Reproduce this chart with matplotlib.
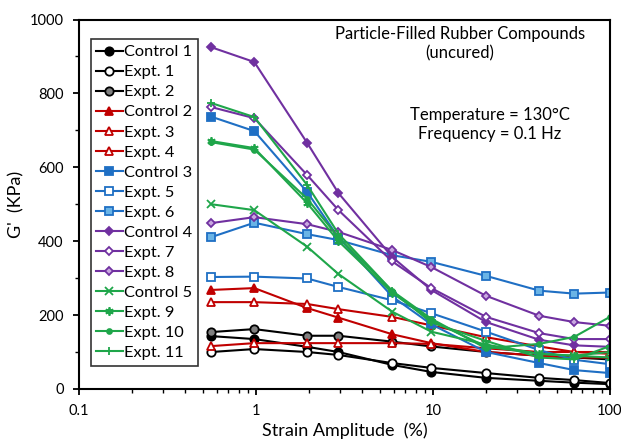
import matplotlib.pyplot as plt
import numpy as np
from matplotlib.ticker import MultipleLocator, FixedLocator, NullFormatter

plt.rcParams['font.family'] = ['Lato', 'DejaVu Sans']

# strain amplitude (%)
strain = [0.56, 0.98, 1.95, 2.93, 5.9, 9.8, 20, 40, 63, 100]

# G' (kPa) per compound
control1 = [143, 135, 114, 100, 65, 46, 30, 22, 17, 13]
expt1 = [100, 108, 100, 92, 70, 57, 43, 30, 24, 16]
expt2 = [154, 162, 144, 144, 128, 115, 100, 90, 85, 80]
control2 = [268, 273, 219, 193, 148, 124, 100, 90, 85, 85]
expt3 = [235, 235, 230, 216, 195, 172, 140, 115, 100, 95]
expt4 = [116, 124, 124, 124, 124, 122, 110, 100, 100, 100]
control3 = [737, 698, 533, 410, 250, 175, 100, 70, 51, 43]
expt5 = [303, 304, 299, 276, 240, 205, 155, 105, 79, 67]
expt6 = [411, 450, 419, 403, 362, 344, 306, 266, 258, 261]
control4 = [925, 885, 666, 530, 357, 268, 181, 133, 118, 114]
expt7 = [763, 733, 579, 484, 345, 273, 195, 151, 135, 135]
expt8 = [449, 465, 446, 425, 376, 330, 252, 198, 181, 171]
control5 = [500, 484, 385, 311, 209, 155, 120, 95, 90, 100]
expt9 = [671, 652, 503, 400, 260, 185, 115, 95, 90, 85]
expt10 = [668, 648, 515, 410, 265, 190, 110, 122, 141, 195]
expt11 = [774, 736, 552, 420, 265, 180, 130, 85, 80, 116]

black = '#000000'
red = '#c00000'
blue = '#1f6fc4'
purple = '#7030a0'
green = '#1fa64a'

series = [
    ("Control 1", control1, black, 'o', black),
    ("Expt. 1", expt1, black, 'o', 'white'),
    ("Expt. 2", expt2, black, 'o', '#808080'),
    ("Control 2", control2, red, '^', red),
    ("Expt. 3", expt3, red, '^', 'white'),
    ("Expt. 4", expt4, red, '^', 'white'),
    ("Control 3", control3, blue, 's', blue),
    ("Expt. 5", expt5, blue, 's', 'white'),
    ("Expt. 6", expt6, blue, 's', '#6ab4e6'),
    ("Control 4", control4, purple, 'D', purple),
    ("Expt. 7", expt7, purple, 'D', 'white'),
    ("Expt. 8", expt8, purple, 'D', '#c9a8e0'),
    ("Control 5", control5, green, 'x', green),
    ("Expt. 9", expt9, green, (6, 2, 0), green),
    ("Expt. 10", expt10, green, '.', green),
    ("Expt. 11", expt11, green, '+', green),
]

fig = plt.figure(figsize=(6.21, 4.44), dpi=100)
ax = fig.add_axes([0.127, 0.124, 0.855, 0.832])

for name, vals, col, mk, fc in series:
    ms = 6
    if mk == 'D':
        ms = 4.5
    if mk == '.':
        ms = 7
    ax.plot(strain, vals, color=col, marker=mk, markerfacecolor=fc,
            markeredgecolor=col, markersize=ms, markeredgewidth=1.3,
            lw=1.5, label=name)

ax.set_xscale('log')
ax.set_xlim(0.1, 100)
ax.set_ylim(0, 1000)
ax.yaxis.set_major_locator(MultipleLocator(200))
ax.yaxis.set_minor_locator(MultipleLocator(100))
ax.set_xticks([0.1, 1, 10, 100])
ax.set_xticklabels(["0.1", "1", "10", "100"])
ax.xaxis.set_minor_formatter(NullFormatter())

ax.tick_params(which='major', direction='out', length=4, width=1.3, labelsize=10.5, pad=7)
ax.tick_params(which='minor', direction='out', length=3, width=1.0)
for sp in ax.spines.values():
    sp.set_linewidth(1.5)

ax.set_ylabel("G'  (KPa)", fontsize=13)
ax.set_xlabel("Strain Amplitude  (%)", fontsize=13, labelpad=3)

ax.text(0.718, 0.935, "Particle-Filled Rubber Compounds\n(uncured)",
        transform=ax.transAxes, ha='center', va='center', fontsize=12,
        linespacing=1.25)
ax.text(0.774, 0.715, "Temperature = 130\u00b0C\nFrequency = 0.1 Hz",
        transform=ax.transAxes, ha='center', va='center', fontsize=12,
        linespacing=1.25)

leg = ax.legend(loc='upper left', bbox_to_anchor=(0.022, 0.947), fontsize=11.8,
                frameon=True, fancybox=False, edgecolor='black',
                handlelength=1.6, handletextpad=0.1, labelspacing=0.34,
                borderpad=0.35, borderaxespad=0)
leg.get_frame().set_linewidth(1.2)

plt.savefig("out.png", dpi=100)
